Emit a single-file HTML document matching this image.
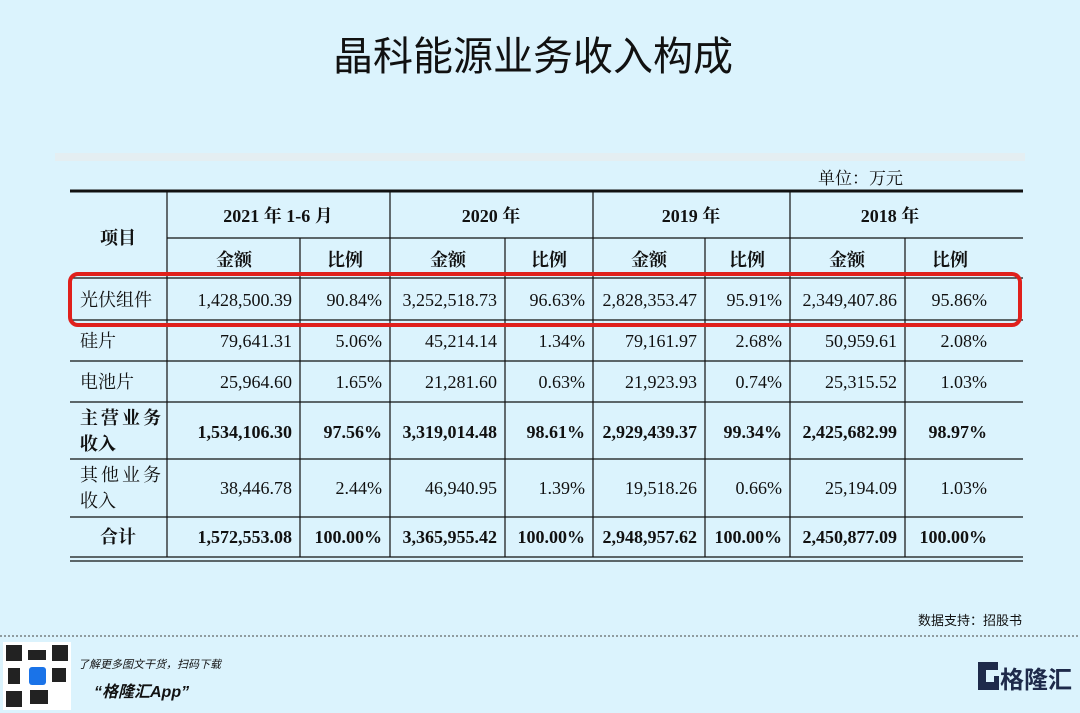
<!DOCTYPE html>
<html><head><meta charset="utf-8"><style>
body{margin:0;width:1080px;height:713px;background:#dbf3fd;overflow:hidden;position:relative;font-family:"Liberation Serif","Noto Serif CJK SC",serif}
.t{position:absolute;white-space:nowrap}
</style></head><body>
<div class="t" style="left:0;width:1066px;top:24px;text-align:center;font:normal 40px 'Liberation Sans','Noto Sans CJK SC',sans-serif;color:#111">晶科能源业务收入构成</div>
<div style="position:absolute;left:55px;top:153px;width:970px;height:8px;background:#e4eef2"></div>
<svg width="1080" height="713" style="position:absolute;left:0;top:0" font-family="Liberation Serif,Noto Serif CJK SC,serif" font-size="18" fill="#111">
<text x="818" y="184" font-size="17">单位：万元</text>
<g stroke="#111" stroke-width="1.2">
<line x1="70" y1="191" x2="1023" y2="191" stroke-width="3"/>
<line x1="167" y1="238" x2="1023" y2="238"/>
<line x1="70" y1="278" x2="1023" y2="278"/>
<line x1="70" y1="320" x2="1023" y2="320"/>
<line x1="70" y1="361" x2="1023" y2="361"/>
<line x1="70" y1="402" x2="1023" y2="402"/>
<line x1="70" y1="459" x2="1023" y2="459"/>
<line x1="70" y1="517" x2="1023" y2="517"/>
<line x1="70" y1="557" x2="1023" y2="557"/>
<line x1="70" y1="561" x2="1023" y2="561"/>
<line x1="167" y1="191" x2="167" y2="557"/>
<line x1="390" y1="191" x2="390" y2="557"/>
<line x1="593" y1="191" x2="593" y2="557"/>
<line x1="790" y1="191" x2="790" y2="557"/>
<line x1="300" y1="238" x2="300" y2="557"/>
<line x1="505" y1="238" x2="505" y2="557"/>
<line x1="705" y1="238" x2="705" y2="557"/>
<line x1="905" y1="238" x2="905" y2="557"/>
</g>
<g font-weight="bold" text-anchor="middle">
<text x="118" y="244">项目</text>
<text x="278" y="222">2021 年 1-6 月</text>
<text x="491" y="222">2020 年</text>
<text x="691" y="222">2019 年</text>
<text x="890" y="222">2018 年</text>
<text x="234" y="266">金额</text><text x="345" y="266">比例</text>
<text x="448" y="266">金额</text><text x="549" y="266">比例</text>
<text x="649" y="266">金额</text><text x="747" y="266">比例</text>
<text x="847" y="266">金额</text><text x="950" y="266">比例</text>
</g>
<g text-anchor="end">
<text x="292" y="306">1,428,500.39</text><text x="382" y="306">90.84%</text><text x="497" y="306">3,252,518.73</text><text x="585" y="306">96.63%</text><text x="697" y="306">2,828,353.47</text><text x="782" y="306">95.91%</text><text x="897" y="306">2,349,407.86</text><text x="987" y="306">95.86%</text>
<text x="292" y="347">79,641.31</text><text x="382" y="347">5.06%</text><text x="497" y="347">45,214.14</text><text x="585" y="347">1.34%</text><text x="697" y="347">79,161.97</text><text x="782" y="347">2.68%</text><text x="897" y="347">50,959.61</text><text x="987" y="347">2.08%</text>
<text x="292" y="388">25,964.60</text><text x="382" y="388">1.65%</text><text x="497" y="388">21,281.60</text><text x="585" y="388">0.63%</text><text x="697" y="388">21,923.93</text><text x="782" y="388">0.74%</text><text x="897" y="388">25,315.52</text><text x="987" y="388">1.03%</text>
<g font-weight="bold"><text x="292" y="438">1,534,106.30</text><text x="382" y="438">97.56%</text><text x="497" y="438">3,319,014.48</text><text x="585" y="438">98.61%</text><text x="697" y="438">2,929,439.37</text><text x="782" y="438">99.34%</text><text x="897" y="438">2,425,682.99</text><text x="987" y="438">98.97%</text></g>
<text x="292" y="494">38,446.78</text><text x="382" y="494">2.44%</text><text x="497" y="494">46,940.95</text><text x="585" y="494">1.39%</text><text x="697" y="494">19,518.26</text><text x="782" y="494">0.66%</text><text x="897" y="494">25,194.09</text><text x="987" y="494">1.03%</text>
<g font-weight="bold"><text x="292" y="543">1,572,553.08</text><text x="382" y="543">100.00%</text><text x="497" y="543">3,365,955.42</text><text x="585" y="543">100.00%</text><text x="697" y="543">2,948,957.62</text><text x="782" y="543">100.00%</text><text x="897" y="543">2,450,877.09</text><text x="987" y="543">100.00%</text></g>
</g>
<text x="80" y="306">光伏组件</text>
<text x="80" y="347">硅片</text>
<text x="80" y="388">电池片</text>
<text x="80" y="424" font-weight="bold" letter-spacing="3">主营业务</text>
<text x="80" y="450" font-weight="bold">收入</text>
<text x="80" y="481" letter-spacing="3">其他业务</text>
<text x="80" y="507">收入</text>
<text x="118" y="543" font-weight="bold" text-anchor="middle">合计</text>
<rect x="70" y="274" width="950" height="51" rx="8" fill="none" stroke="#e0201c" stroke-width="4"/>
<text x="1022" y="625" font-size="13" text-anchor="end" font-family="Liberation Sans,Noto Sans CJK SC,sans-serif">数据支持：招股书</text>
<line x1="0" y1="636" x2="1080" y2="636" stroke="#444" stroke-dasharray="2,2" stroke-width="1"/>
<rect x="3" y="642" width="68" height="68" fill="#fff"/>
<g fill="#222"><rect x="6" y="645" width="16" height="16"/><rect x="52" y="645" width="16" height="16"/><rect x="6" y="691" width="16" height="16"/><rect x="28" y="650" width="18" height="10"/><rect x="30" y="690" width="18" height="14"/><rect x="52" y="668" width="14" height="14"/><rect x="8" y="668" width="12" height="16"/></g>
<rect x="29" y="667" width="17" height="18" rx="3" fill="#1a73e8"/>
<g font-family="Liberation Sans,Noto Sans CJK SC,sans-serif" font-style="italic">
<text x="78" y="668" font-size="11">了解更多图文干货，扫码下载</text>
<text x="94" y="697" font-size="16" font-weight="bold">“格隆汇App”</text>
</g>
<path d="M978 662h20v8h-12v12h8v-6h5v14h-21z" fill="#1e2a4a"/>
<text x="1000" y="688" font-size="24" font-weight="bold" fill="#1e2a4a" font-family="Liberation Sans,Noto Sans CJK SC,sans-serif">格隆汇</text>
</svg>
</body></html>
